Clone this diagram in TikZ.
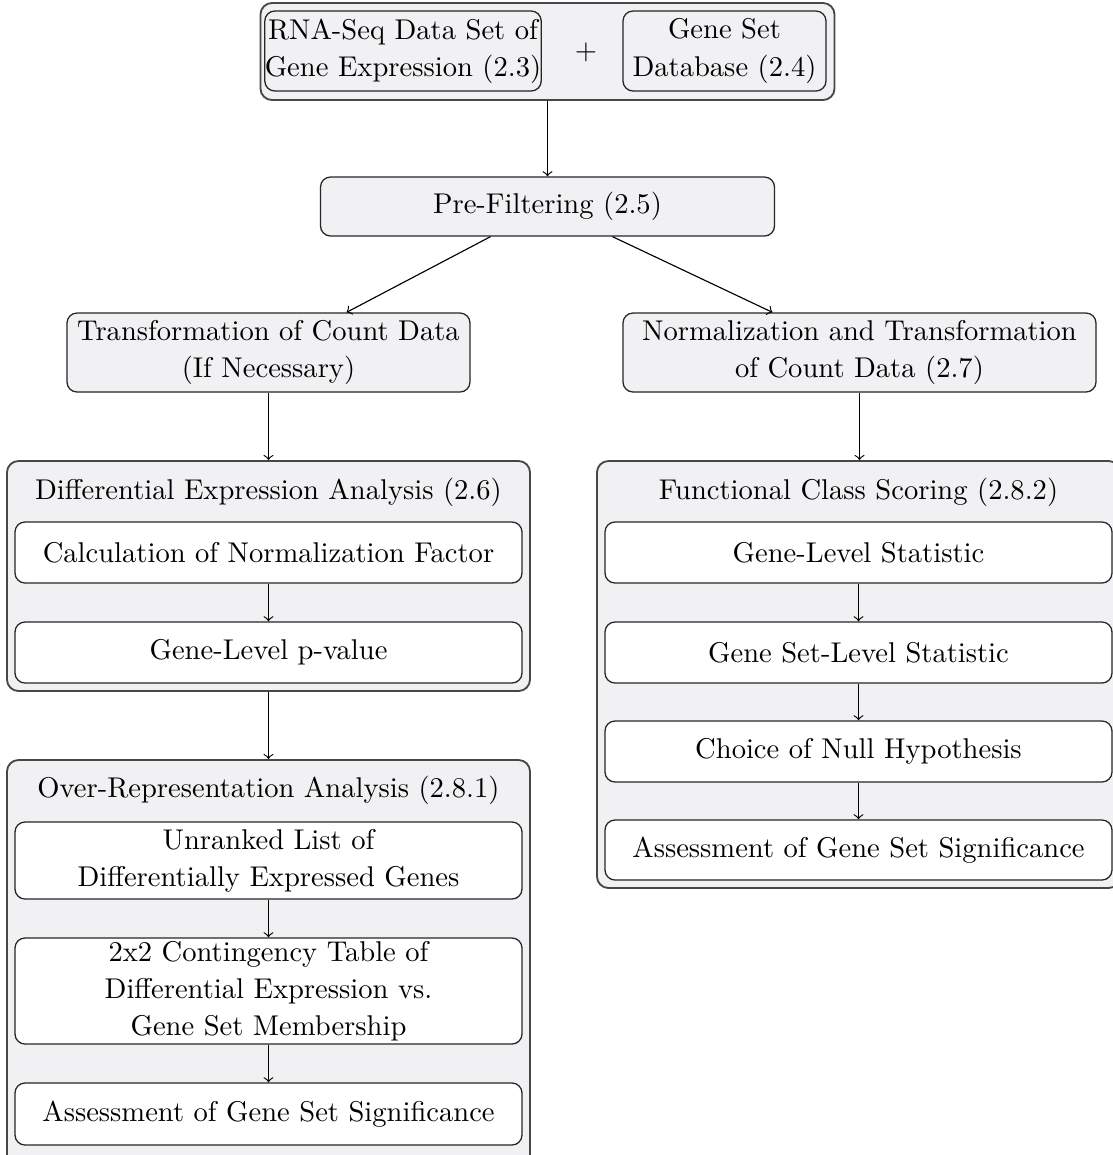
\documentclass[tikz,border=0pt]{standalone}
\usetikzlibrary{calc}
\definecolor{panel}{HTML}{F1F1F3}
\newcommand\pxu{0.35pt}
\begin{document}
\begin{tikzpicture}[x=0.35pt,y=-0.35pt,
  every node/.style={font={\fontsize{10pt}{13pt}\selectfont}},
  group/.style={draw=black!72, line width=0.65pt, fill=panel, rounded corners=4pt, inner sep=0pt},
  graybox/.style={draw=black!85, line width=0.45pt, fill=panel, rounded corners=3.5pt, inner sep=0pt, align=center},
  whitebox/.style={draw=black!85, line width=0.45pt, fill=white, rounded corners=3.5pt, inner sep=0pt, align=center},
  title/.style={inner sep=0pt},
  arr/.style={->, line width=0.4pt}]
\useasboundingbox (0,0) rectangle (1113,1155);
\clip (0,0) rectangle (1113,1155);

% inputs
\node[group, minimum width={574*\pxu}, minimum height={97*\pxu}] (src) at (547.5,51.5) {};
\node[graybox, minimum width={270*\pxu}, minimum height={80*\pxu}] (rna) at (403,51) {RNA-Seq Data Set of\\Gene Expression (2.3)};
\node (plus) at (586,52) {$+$};
\node[graybox, minimum width={203*\pxu}, minimum height={80*\pxu}] (gsdb) at (724.5,51) {Gene Set\\Database (2.4)};

% pre-processing
\node[graybox, minimum width={454*\pxu}, minimum height={59*\pxu}] (pre) at (547.5,206.5) {Pre-Filtering (2.5)};
\node[graybox, minimum width={403*\pxu}, minimum height={79*\pxu}] (trans) at (268.5,352.5) {Transformation of Count Data\\(If Necessary)};
\node[graybox, minimum width={473*\pxu}, minimum height={79*\pxu}] (norm) at (859.5,352.5) {Normalization and Transformation\\of Count Data (2.7)};

% differential expression analysis
\node[group, minimum width={523*\pxu}, minimum height={230*\pxu}] (dea) at (268.5,576) {};
\node[title] (deat) at (268.5,492) {Differential Expression Analysis (2.6)};
\node[whitebox, minimum width={507*\pxu}, minimum height={61*\pxu}] (calc) at (268.5,552.5) {Calculation of Normalization Factor};
\node[whitebox, minimum width={507*\pxu}, minimum height={61*\pxu}] (pval) at (268.5,652.5) {Gene-Level p-value};

% over-representation analysis
\node[group, minimum width={523*\pxu}, minimum height={420*\pxu}] (ora) at (268.5,970) {};
\node[title] (orat) at (268.5,790) {Over-Representation Analysis (2.8.1)};
\node[whitebox, minimum width={507*\pxu}, minimum height={77*\pxu}] (unr) at (268.5,860.5) {Unranked List of\\Differentially Expressed Genes};
\node[whitebox, minimum width={507*\pxu}, minimum height={106*\pxu}] (cont) at (268.5,991) {2x2 Contingency Table of\\Differential Expression vs.\\Gene Set Membership};
\node[whitebox, minimum width={507*\pxu}, minimum height={62*\pxu}] (assa) at (268.5,1114) {Assessment of Gene Set Significance};

% functional class scoring
\node[group, minimum width={523*\pxu}, minimum height={427*\pxu}] (fcs) at (858.5,674.5) {};
\node[title] (fcst) at (858.5,492) {Functional Class Scoring (2.8.2)};
\node[whitebox, minimum width={507*\pxu}, minimum height={61*\pxu}] (gls) at (858.5,552.5) {Gene-Level Statistic};
\node[whitebox, minimum width={507*\pxu}, minimum height={61*\pxu}] (gsls) at (858.5,652.5) {Gene Set-Level Statistic};
\node[whitebox, minimum width={507*\pxu}, minimum height={61*\pxu}] (null) at (858.5,751.5) {Choice of Null Hypothesis};
\node[whitebox, minimum width={507*\pxu}, minimum height={60*\pxu}] (assb) at (858.5,850) {Assessment of Gene Set Significance};

% connectors
\draw[arr] (src) -- (pre);
\draw[arr] ($(pre.south)+(-57,0)$) -- ($(trans.north)+(78,0)$);
\draw[arr] ($(pre.south)+(65,0)$) -- ($(norm.north)+(-87,0)$);
\draw[arr] (trans) -- (dea);
\draw[arr] (norm.south) -- (norm.south |- fcs.north);
\draw[arr] (calc) -- (pval);
\draw[arr] (dea) -- (ora);
\draw[arr] (unr) -- (cont);
\draw[arr] (cont) -- (assa);
\draw[arr] (gls) -- (gsls);
\draw[arr] (gsls) -- (null);
\draw[arr] (null) -- (assb);
\end{tikzpicture}
\end{document}
